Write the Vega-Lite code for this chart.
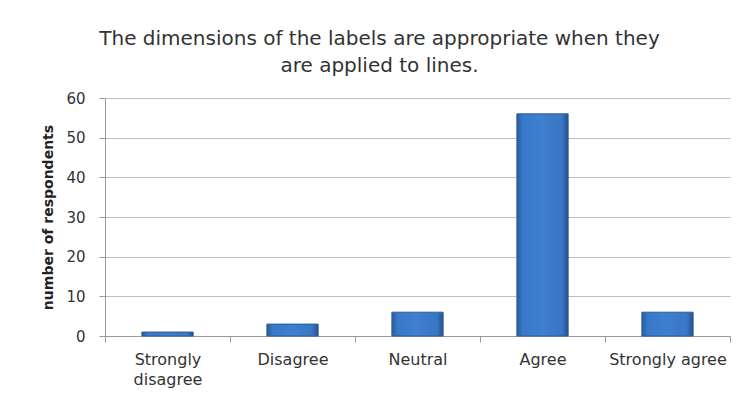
{
  "$schema": "https://vega.github.io/schema/vega-lite/v6.json",
  "width": 625,
  "height": 238,
  "autosize": {"type": "none"},
  "padding": {"left": 105, "top": 98, "right": 13, "bottom": 65},
  "background": "white",
  "title": {
    "text": ["The dimensions of the labels are appropriate when they", "are applied to lines."],
    "font": "DejaVu Sans",
    "fontSize": 20,
    "fontWeight": "normal",
    "color": "#333333",
    "anchor": "middle",
    "frame": "group",
    "dx": -38,
    "lineHeight": 27,
    "offset": 15
  },
  "data": {
    "values": [
      {"response": "Strongly disagree", "count": 1},
      {"response": "Disagree", "count": 3},
      {"response": "Neutral", "count": 6},
      {"response": "Agree", "count": 56},
      {"response": "Strongly agree", "count": 6}
    ]
  },
  "mark": {
    "type": "bar",
    "width": {"band": 0.41},
    "stroke": "#2b5d9e",
    "strokeWidth": 1,
    "fill": {
      "x1": 0, "y1": 0, "x2": 1, "y2": 0,
      "gradient": "linear",
      "stops": [
        {"offset": 0, "color": "#2a5b9c"},
        {"offset": 0.12, "color": "#3a79c9"},
        {"offset": 0.5, "color": "#3d7fd0"},
        {"offset": 0.88, "color": "#3a76c4"},
        {"offset": 1, "color": "#264f88"}
      ]
    }
  },
  "encoding": {
    "x": {
      "field": "response",
      "type": "nominal",
      "sort": null,
      "title": null,
      "scale": {"paddingInner": 0, "paddingOuter": 0},
      "axis": {
        "labelAngle": 0,
        "labelFont": "DejaVu Sans",
        "labelFontSize": 16,
        "labelColor": "#333333",
        "labelPadding": 9,
        "labelExpr": "datum.label == 'Strongly disagree' ? ['Strongly', 'disagree'] : datum.label",
        "labelLineHeight": 20,
        "tickBand": "extent",
        "tickSize": 6,
        "tickColor": "#999999",
        "domainColor": "#999999",
        "grid": false
      }
    },
    "y": {
      "field": "count",
      "type": "quantitative",
      "title": "number of respondents",
      "scale": {"domain": [0, 60]},
      "axis": {
        "values": [0, 10, 20, 30, 40, 50, 60],
        "titleFont": "DejaVu Sans",
        "titleFontSize": 14,
        "titleFontWeight": "bold",
        "titleColor": "#222222",
        "titlePadding": 10,
        "labelFont": "DejaVu Sans",
        "labelFontSize": 15,
        "labelColor": "#333333",
        "labelPadding": 14,
        "tickSize": 6,
        "tickColor": "#999999",
        "domainColor": "#999999",
        "gridColor": "#bdbdbd",
        "gridWidth": 1
      }
    }
  },
  "config": {"view": {"stroke": null}}
}
